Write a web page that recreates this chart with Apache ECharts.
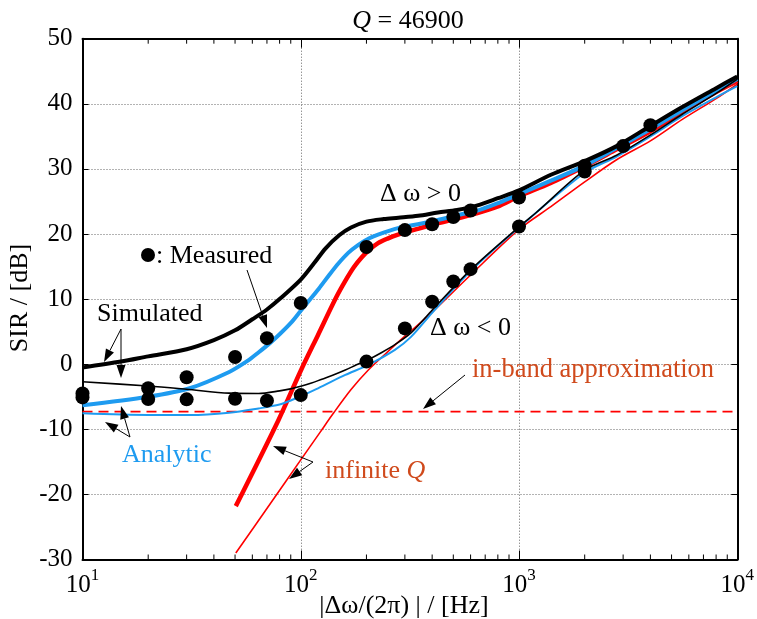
<!DOCTYPE html>
<html><head><meta charset="utf-8">
<script src="https://cdn.jsdelivr.net/npm/echarts@6/dist/echarts.min.js"></script>
<style>html,body{margin:0;padding:0;background:#fff}#c{width:757px;height:619px}</style>
</head><body><div id="c"></div>
<script>
const FONT = '"Liberation Serif","Times New Roman",serif';

// ---- data (frequency in Hz, SIR in dB) ----
const measuredPosF   = [10, 20, 30, 50, 70, 100, 200, 300, 400, 500, 600, 1000, 2000, 3000, 4000];
const measuredPosSIR = [-4.5, -3.7, -2.0, 1.1, 4.0, 9.4, 18.0, 20.6, 21.5, 22.6, 23.6, 25.6, 30.5, 33.5, 36.7];
const measuredNegF   = [10, 20, 30, 50, 70, 100, 200, 300, 400, 500, 600, 1000, 2000];
const measuredNegSIR = [-5.1, -5.35, -5.4, -5.3, -5.6, -4.75, 0.4, 5.5, 9.6, 12.7, 14.6, 21.15, 29.6];

const simPosF   = [10, 15, 20, 30, 40, 50, 60, 70, 80, 100, 115, 130, 150, 170, 200, 240, 280, 345, 425, 520, 645, 800, 1000, 1400, 2000, 2800, 4000, 5600, 8000, 10000];
const simPosSIR = [-0.5, 0.4, 1.2, 2.3, 3.7, 5.2, 6.9, 8.4, 10.0, 13.0, 15.5, 17.8, 19.8, 21.0, 21.9, 22.3, 22.5, 22.8, 23.3, 23.7, 24.4, 25.5, 26.7, 29.1, 31.2, 33.5, 36.6, 39.5, 42.4, 44.2];

const simNegF   = [10, 20, 30, 47, 64, 80, 91, 100, 112, 125, 140, 160, 180, 204, 235, 270, 320, 395, 600, 1000, 1200, 2000, 2800, 4000, 5600, 8000, 10000];
const simNegSIR = [-2.7, -3.35, -3.85, -4.45, -4.5, -4.1, -3.75, -3.4, -2.9, -2.3, -1.7, -0.9, -0.1, 0.7, 1.8, 3.0, 4.8, 8.1, 14.5, 21.1, 23.3, 29.8, 32.1, 35.2, 38.4, 41.6, 43.8];

const anaPosF   = [10, 20, 31, 47, 57, 64, 72, 80, 91, 100, 110, 121, 135, 149, 165, 183, 205, 226, 279, 344, 424, 523, 645, 795, 980, 1400, 2000, 2800, 4000, 5600, 8000, 10000];
const anaPosSIR = [-6.3, -5.0, -3.7, -1.2, 0.5, 1.8, 3.2, 4.6, 6.5, 8.2, 9.9, 11.6, 13.7, 15.5, 17.1, 18.3, 19.3, 19.9, 20.9, 21.5, 22.15, 22.9, 23.6, 24.7, 26.0, 28.2, 30.5, 33.2, 36.1, 39.0, 42.0, 43.8];

const anaNegF   = [10, 20, 31, 47, 64, 80, 91, 100, 120, 160, 204, 270, 320, 400, 600, 1000, 2000, 2800, 4000, 5600, 8000, 10000];
const anaNegSIR = [-7.55, -7.8, -7.8, -7.45, -6.8, -6.2, -5.5, -4.9, -3.7, -1.65, -0.1, 2.2, 4.2, 7.9, 14.3, 21.0, 29.4, 31.9, 35.0, 38.1, 41.0, 42.7];

const infPosF   = [50.4, 79, 100, 120, 145, 160, 175, 190, 205, 226, 250, 279, 344, 424, 523, 645, 795, 1000, 1390, 1972, 2798, 3966, 5600, 8000, 10000];
const infPosSIR = [-21.8, -8.6, -1.0, 4.5, 10.2, 12.8, 14.9, 16.4, 17.5, 18.6, 19.3, 19.9, 20.8, 21.65, 22.4, 23.2, 24.2, 25.8, 27.8, 30.3, 33.0, 35.7, 38.8, 41.8, 43.5];

const infNegF   = [50.4, 72.6, 100, 123, 140, 170, 204, 250, 300, 395, 600, 1000, 1400, 2000, 2800, 4000, 5600, 8000, 10000];
const infNegSIR = [-29.0, -21.4, -14.7, -10.4, -7.7, -3.9, -0.9, 1.9, 4.3, 7.8, 13.7, 20.7, 24.2, 28.0, 31.4, 34.3, 37.6, 40.8, 43.0];

const inBandF   = [10, 10000];
const inBandSIR = [-7.3, -7.3];

const xMajorTicks = [10, 100, 1000, 10000];
const xMinorMult  = [2, 3, 4, 5, 6, 7, 8, 9];

const zip = (a, b) => a.map((v, i) => [v, b[i]]);

const chart = echarts.init(document.getElementById('c'), null, {renderer: 'canvas'});

const BLACK = '#000000', BLUE = '#1E9BF0', RED = '#FF0000', TXTRED = '#D04A1C';

function lineSeries(name, f, s, color, width, z) {
  return {name, type: 'line', data: zip(f, s), showSymbol: false, symbol: 'none',
    smooth: 0.3, lineStyle: {color, width}, z, silent: true, animation: false};
}

const option = {
  animation: false,
  backgroundColor: '#fff',
  grid: {left: 82.5, right: 15.3, top: 38.7, bottom: 59.5, show: false},
  xAxis: [
    {type: 'log', logBase: 10, min: 10, max: 10000, position: 'bottom',
     axisLine: {show: true, onZero: false, lineStyle: {color: '#000', width: 2}},
     axisTick: {show: true, inside: true, length: 9, lineStyle: {color: '#000', width: 1}},
     axisLabel: {show: true, margin: 8,
       formatter: v => '{b|10}{s|' + Math.round(Math.log10(v)) + '}',
       rich: {b: {fontSize: 25, fontFamily: FONT, color: '#000', lineHeight: 30, verticalAlign: 'bottom'},
              s: {fontSize: 17, fontFamily: FONT, color: '#000', lineHeight: 30, verticalAlign: 'top'}}},
     splitLine: {show: true, lineStyle: {color: '#666', width: 1, type: [1, 2]}},
     minorTick: {show: false}},
    {type: 'log', logBase: 10, min: 10, max: 10000, position: 'top',
     axisLine: {show: true, onZero: false, lineStyle: {color: '#000', width: 2}},
     axisTick: {show: true, inside: true, length: 9, lineStyle: {color: '#000', width: 1}},
     axisLabel: {show: false}, splitLine: {show: false}}
  ],
  yAxis: [
    {type: 'value', min: -30, max: 50, interval: 10, position: 'left',
     axisLine: {show: true, onZero: false, lineStyle: {color: '#000', width: 2}},
     axisTick: {show: true, inside: true, length: 6, lineStyle: {color: '#000', width: 1}},
     axisLabel: {show: true, margin: 10, fontSize: 25, fontFamily: FONT, color: '#000'},
     splitLine: {show: true, lineStyle: {color: '#666', width: 1, type: [1, 2]}}},
    {type: 'value', min: -30, max: 50, interval: 10, position: 'right',
     axisLine: {show: true, onZero: false, lineStyle: {color: '#000', width: 2}},
     axisTick: {show: true, inside: true, length: 6, lineStyle: {color: '#000', width: 1}},
     axisLabel: {show: false}, splitLine: {show: false}}
  ],
  series: [
    {name: 'in-band', type: 'line', data: zip(inBandF, inBandSIR), symbol: 'none',
     lineStyle: {color: RED, width: 1.8, type: [10, 6]}, z: 2, silent: true},
    lineSeries('infinite Q (<0)', infNegF, infNegSIR, RED, 1.6, 3),
    lineSeries('infinite Q (>0)', infPosF, infPosSIR, RED, 4.5, 3),
    lineSeries('Analytic (<0)', anaNegF, anaNegSIR, BLUE, 2, 4),
    lineSeries('Analytic (>0)', anaPosF, anaPosSIR, BLUE, 4, 4),
    lineSeries('Simulated (<0)', simNegF, simNegSIR, BLACK, 1.6, 5),
    lineSeries('Simulated (>0)', simPosF, simPosSIR, BLACK, 4, 5),
    {name: 'Measured (>0)', type: 'scatter', data: zip(measuredPosF, measuredPosSIR),
     symbol: 'circle', symbolSize: 14, itemStyle: {color: '#000', opacity: 1}, z: 6, silent: true},
    {name: 'Measured (<0)', type: 'scatter', data: zip(measuredNegF, measuredNegSIR),
     symbol: 'circle', symbolSize: 14, itemStyle: {color: '#000', opacity: 1}, z: 6, silent: true}
  ]
};
chart.setOption(option);

// ---- annotations ----
const g = [];
function txt(x, y, text, opts) {
  g.push({type: 'text', z: 20, silent: true, style: Object.assign({
    x, y, text, fill: '#000', font: '26px ' + FONT, textAlign: 'left', textVerticalAlign: 'middle'}, opts || {})});
}
function arrow(x1, y1, x2, y2) {
  const dx = x2 - x1, dy = y2 - y1, n = Math.hypot(dx, dy);
  const ux = dx / n, uy = dy / n, L = 13, W = 4.5;
  const bx = x2 - ux * L, by = y2 - uy * L;
  g.push({type: 'line', z: 20, silent: true, shape: {x1, y1, x2: bx, y2: by}, style: {stroke: '#000', lineWidth: 1}});
  g.push({type: 'polygon', z: 20, silent: true, shape: {points: [[x2, y2], [bx - uy * W, by + ux * W], [bx + uy * W, by - ux * W]]}, style: {fill: '#000'}});
}

// minor ticks on log axes (top and bottom)
const yBot = chart.convertToPixel({yAxisIndex: 0}, -30);
const yTop = chart.convertToPixel({yAxisIndex: 0}, 50);
xMajorTicks.slice(0, 3).forEach(d => xMinorMult.forEach(m => {
  const px = chart.convertToPixel({xAxisIndex: 0}, d * m);
  g.push({type: 'line', z: 10, silent: true, shape: {x1: px, y1: yBot, x2: px, y2: yBot - 5}, style: {stroke: '#000', lineWidth: 1}});
  g.push({type: 'line', z: 10, silent: true, shape: {x1: px, y1: yTop, x2: px, y2: yTop + 5}, style: {stroke: '#000', lineWidth: 1}});
}));

// title and axis names
g.push({type: 'text', z: 20, silent: true, style: {x: 408, y: 21, text: '{i|Q} = 46900', textAlign: 'center', textVerticalAlign: 'middle',
  font: '26px ' + FONT, fill: '#000', rich: {i: {fontStyle: 'italic', fontSize: 26, fontFamily: FONT, fill: '#000'}}}});
g.push({type: 'text', z: 20, silent: true, style: {x: 404, y: 606, text: '|Δω/(2π) | / [Hz]', textAlign: 'center', textVerticalAlign: 'middle', font: '26px ' + FONT, fill: '#000'}});
g.push({type: 'text', z: 20, silent: true, x: 20, y: 298, rotation: Math.PI / 2,
  style: {x: 0, y: 0, text: 'SIR / [dB]', textAlign: 'center', textVerticalAlign: 'middle', font: '26px ' + FONT, fill: '#000'}});

g.push({type: 'circle', z: 20, silent: true, shape: {cx: 148, cy: 255, r: 7}, style: {fill: '#000'}});
txt(156, 256, ': Measured');
txt(97, 314, 'Simulated');
txt(380, 194, 'Δ ω > 0');
txt(430, 328, 'Δ ω < 0');
txt(472, 370, 'in-band approximation', {fill: TXTRED, font: '26.5px ' + FONT});
txt(122, 455, 'Analytic', {fill: BLUE});
g.push({type: 'text', z: 20, silent: true, style: {x: 325, y: 471, text: 'infinite {i|Q}', textAlign: 'left', textVerticalAlign: 'middle',
  font: '26px ' + FONT, fill: TXTRED, rich: {i: {fontStyle: 'italic', fontSize: 26, fontFamily: FONT, fill: TXTRED}}}});

arrow(247, 270, 267, 328);
arrow(121, 329, 104, 362);
arrow(121, 329, 121, 378);
arrow(130, 437, 121, 406);
arrow(130, 437, 105, 422);
arrow(465, 375, 423, 409);
arrow(313, 462, 273, 446);
arrow(313, 462, 289, 479);

chart.setOption({graphic: g});
</script>
</body></html>
